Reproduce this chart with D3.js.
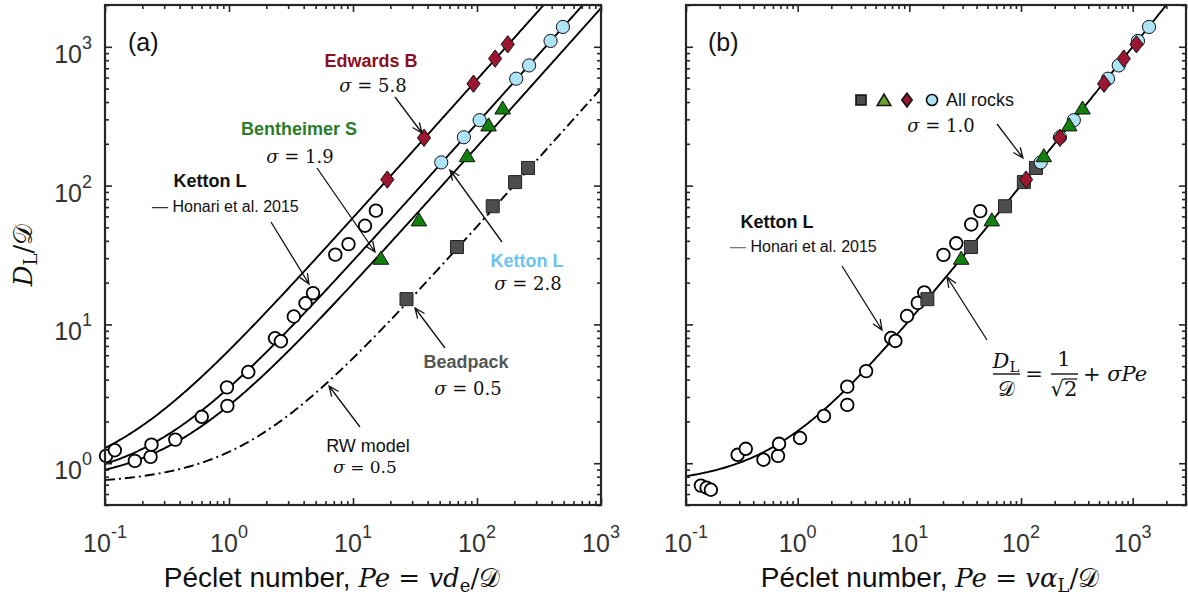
<!DOCTYPE html>
<html>
<head>
<meta charset="utf-8">
<script src="https://cdn.jsdelivr.net/npm/d3@7/dist/d3.min.js"></script>
<style>
  html, body { margin: 0; padding: 0; background: #fff; }
  svg { display: block; }
  text { white-space: pre; }
</style>
</head>
<body>
<svg id="chart" width="1188" height="601"></svg>
<script>
// ---------------- data ----------------
// Longitudinal dispersion model: D_L / D = 1/sqrt(2) + sigma * Pe
const sigmaFitsA = [5.8, 2.8, 1.9];     // Edwards B, Ketton L, Bentheimer S
const sigmaRW = 0.5;                    // random-walk model (dash-dot)
const sigmaAll = 1.0;                   // all rocks, Pe based on alpha_L

// Ketton L, Honari et al. 2015 (open circles)
const honariPeA = [0.102, 0.120, 0.174, 0.233, 0.237, 0.369, 0.603, 0.963, 0.97, 1.43,
                   2.35, 2.62, 3.33, 4.14, 4.76, 7.2, 9.2, 12.5, 15.3];
const honariDA  = [1.13, 1.24, 1.04, 1.11, 1.36, 1.48, 2.16, 3.52, 2.59, 4.54,
                   7.95, 7.56, 11.4, 14.2, 16.8, 31.8, 37.9, 51.4, 66];
const honariPeB = [0.136, 0.153, 0.167, 0.29, 0.343, 0.494, 0.667, 0.681, 1.05, 1.72,
                   2.78, 2.78, 4.10, 6.87, 7.5, 9.53, 11.9, 13.6, 20.2, 26.3, 35.8, 43.1];
const honariDB  = [0.69, 0.666, 0.644, 1.15, 1.27, 1.06, 1.13, 1.38, 1.52, 2.19,
                   3.56, 2.63, 4.61, 7.98, 7.6, 11.5, 14.3, 17.0, 31.7, 38.4, 52.5, 65.5];

// Beadpack
const beadD   = [15.2, 36.1, 71, 106, 134];
const beadPeA = [27, 68.9, 134, 203, 258];
const beadPeB = [14.5, 35.6, 71.9, 106, 136];

// Ketton L
const kettonD   = [147, 223, 296, 589, 734, 1102, 1390];
const kettonPeA = [51.5, 78.4, 105, 207, 263, 392, 493];
const kettonPeB = [150, 223, 297, 601, 750, 1114, 1400];

// Bentheimer S
const benthD   = [30.1, 56.9, 165, 275, 364];
const benthPeA = [16.8, 34, 83.2, 124, 161];
const benthPeB = [29.1, 54.7, 160, 270, 355];

// Edwards B
const edwardsD   = [110.5, 221, 542, 822, 1042];
const edwardsPeA = [18.9, 37.4, 93.7, 140, 177];
const edwardsPeB = [111, 223, 554, 832, 1080];

// axis limits
const xDomainA = [0.1, 1000];
const xDomainB = [0.1, 3000];
const yDomain  = [0.5, 2000];

// ---------------- setup ----------------
const SANS  = '"Liberation Sans", Arial, Helvetica, sans-serif';
const SERIF = '"DejaVu Serif", "Liberation Serif", "Times New Roman", serif';
const INK = "#262626";

const svg = d3.select("#chart");

const xA = d3.scaleLog().domain(xDomainA).range([105, 601]);
const yA = d3.scaleLog().domain(yDomain).range([505, 5]);
const xB = d3.scaleLog().domain(xDomainB).range([686, 1186]);
const yB = d3.scaleLog().domain(yDomain).range([505, 5]);

const colors = {
  bead: "#4d4d4d", beadText: "#555555",
  ketton: "#aee3f6", kettonText: "#6cc4ee",
  benth: "#12800f", benthText: "#2b7d2b", benthLegend: "#6ba22c",
  edwards: "#9c1631", edwardsText: "#8e1020"
};

function decades([lo, hi]) {
  const a = Math.ceil(Math.log10(lo) - 1e-9), b = Math.floor(Math.log10(hi) + 1e-9);
  return d3.range(a, b + 1).map(e => Math.pow(10, e));
}
function minors([lo, hi]) {
  const out = [];
  for (let e = Math.floor(Math.log10(lo)); e <= Math.ceil(Math.log10(hi)); e++) {
    for (let m = 2; m <= 9; m++) {
      const v = +(m * Math.pow(10, e)).toPrecision(6);
      if (v >= lo * 0.9999 && v <= hi * 1.0001) out.push(v);
    }
  }
  return out;
}

// rich text with italic / sub / superscript runs
function rich(g, x, y, parts, o = {}) {
  const t = g.append("text")
    .attr("x", x).attr("y", y)
    .attr("text-anchor", o.anchor || "start")
    .attr("font-size", o.size || 20)
    .attr("font-family", o.family || SERIF)
    .attr("font-weight", o.weight || "normal")
    .attr("fill", o.fill || "#111");
  if (o.rotate) t.attr("transform", `rotate(${o.rotate},${x},${y})`);
  parts.forEach(p => {
    const s = t.append("tspan").text(p.t);
    if (p.i) s.attr("font-style", "italic");
    if (p.f) s.attr("font-family", p.f);
    if (p.s) s.attr("font-size", p.s);
    if (p.dy) s.attr("dy", p.dy);
    if (p.dx) s.attr("dx", p.dx);
    if (p.c) s.attr("fill", p.c);
    if (p.w) s.attr("font-weight", p.w);
  });
  return t;
}

function arrow(g, x1, y1, x2, y2) {
  const a = Math.atan2(y2 - y1, x2 - x1), L = 11, sp = 0.40;
  const p = `M${x1},${y1}L${x2},${y2}` +
    `M${x2 - L * Math.cos(a - sp)},${y2 - L * Math.sin(a - sp)}L${x2},${y2}` +
    `L${x2 - L * Math.cos(a + sp)},${y2 - L * Math.sin(a + sp)}`;
  g.append("path").attr("d", p).attr("fill", "none")
    .attr("stroke", "#111").attr("stroke-width", 1.3);
}

function frame(g, x, y, showYLabels) {
  const [x0, x1] = x.range(), [y0, y1] = y.range();
  const sides = [
    [d3.axisBottom(x), `translate(0,${y0})`, x],
    [d3.axisTop(x), `translate(0,${y1})`, x],
    [d3.axisLeft(y), `translate(${x0},0)`, y],
    [d3.axisRight(y), `translate(${x1},0)`, y]
  ];
  sides.forEach(([ax, tr, sc]) => {
    [[decades(sc.domain()), -7], [minors(sc.domain()), -4]].forEach(([vals, len]) => {
      g.append("g").attr("transform", tr)
        .call(ax.tickValues(vals).tickSize(len).tickSizeOuter(0).tickFormat(""))
        .call(s => s.select(".domain").remove())
        .call(s => s.selectAll(".tick line").attr("stroke", INK).attr("stroke-width", 1.6));
    });
  });
  g.append("rect").attr("x", x0).attr("y", y1).attr("width", x1 - x0).attr("height", y0 - y1)
    .attr("fill", "none").attr("stroke", INK).attr("stroke-width", 2.2);

  decades(x.domain()).forEach(v => {
    const e = Math.round(Math.log10(v));
    rich(g, x(v), y0 + 47, [{ t: "10" }, { t: String(e), s: 18, dy: -14 }],
      { anchor: "middle", size: 25, family: SANS, fill: "#333" });
  });
  if (showYLabels) {
    decades(y.domain()).forEach(v => {
      const e = Math.round(Math.log10(v));
      rich(g, x0 - 13, y(v) + 16, [{ t: "10" }, { t: String(e), s: 18, dy: -14 }],
        { anchor: "end", size: 25, family: SANS, fill: "#333" });
    });
  }
}

function clip(id, x, y) {
  const [x0, x1] = x.range(), [y0, y1] = y.range();
  svg.append("clipPath").attr("id", id).append("rect")
    .attr("x", x0).attr("y", y1).attr("width", x1 - x0).attr("height", y0 - y1);
}

function modelCurve(g, x, y, sigma, dash, clipId) {
  const [lo, hi] = x.domain(), n = 300;
  const pts = d3.range(n + 1).map(i => {
    const pe = lo * Math.pow(hi / lo, i / n);
    return [pe, 1 / Math.SQRT2 + sigma * pe];
  });
  g.append("path").datum(pts)
    .attr("clip-path", `url(#${clipId})`)
    .attr("d", d3.line().x(d => x(d[0])).y(d => y(d[1])))
    .attr("fill", "none").attr("stroke", "#000").attr("stroke-width", 1.9)
    .attr("stroke-dasharray", dash || null);
}

// marker shapes, centred on (0,0)
const shape = {
  circle: r => `M${r},0A${r},${r} 0 1,1 ${-r},0A${r},${r} 0 1,1 ${r},0Z`,
  square: s => `M${-s / 2},${-s / 2}h${s}v${s}h${-s}Z`,
  triangle: s => `M0,${-s * 0.45}L${s * 0.52},${s * 0.42}L${-s * 0.52},${s * 0.42}Z`,
  diamond: s => `M0,${-s * 0.62}L${s * 0.47},0L0,${s * 0.62}L${-s * 0.47},0Z`
};

function markers(g, x, y, pe, dv, d, fill, stroke, sw) {
  g.append("g").selectAll("path").data(pe.map((p, i) => [p, dv[i]])).join("path")
    .attr("transform", v => `translate(${x(v[0])},${y(v[1])})`)
    .attr("d", d).attr("fill", fill).attr("stroke", stroke).attr("stroke-width", sw);
}

const sigmaLabel = v => [{ t: "σ", i: 1 }, { t: " = " + v.toFixed(1) }];

// ---------------- panel (a) ----------------
const gA = svg.append("g");
clip("clipA", xA, yA);
sigmaFitsA.forEach(s => modelCurve(gA, xA, yA, s, null, "clipA"));
modelCurve(gA, xA, yA, sigmaRW, "10,4,2,4", "clipA");

markers(gA, xA, yA, honariPeA, honariDA, shape.circle(6.3), "#fff", "#000", 1.8);
markers(gA, xA, yA, beadPeA, beadD, shape.square(13), colors.bead, "#222", 1);
markers(gA, xA, yA, kettonPeA, kettonD, shape.circle(6.6), colors.ketton, "#111", 1);
markers(gA, xA, yA, benthPeA, benthD, shape.triangle(15), colors.benth, "#111", 1);
markers(gA, xA, yA, edwardsPeA, edwardsD, shape.diamond(14), colors.edwards, "#111", 1);
frame(gA, xA, yA, true);

rich(gA, 128, 51, [{ t: "(a)" }], { size: 25, family: SANS, fill: "#111" });

rich(gA, 371, 67, [{ t: "Edwards B" }], { anchor: "middle", size: 18, family: SANS, weight: "bold", fill: colors.edwardsText });
rich(gA, 373, 92, sigmaLabel(sigmaFitsA[0]), { anchor: "middle", size: 18 });
arrow(gA, 395, 97, 422, 133);

rich(gA, 299, 135, [{ t: "Bentheimer S" }], { anchor: "middle", size: 18, family: SANS, weight: "bold", fill: colors.benthText });
rich(gA, 300, 163, sigmaLabel(sigmaFitsA[2]), { anchor: "middle", size: 18 });
arrow(gA, 317, 168, 375, 252);

rich(gA, 210, 187, [{ t: "Ketton L" }], { anchor: "middle", size: 18, family: SANS, weight: "bold", fill: "#111" });
rich(gA, 152, 212, [{ t: "— ", c: "#333" }, { t: "Honari et al. 2015" }], { size: 16, family: SANS, fill: "#111" });
arrow(gA, 271, 222, 309, 284);

rich(gA, 527, 267, [{ t: "Ketton L" }], { anchor: "middle", size: 18, family: SANS, weight: "bold", fill: colors.kettonText });
rich(gA, 528, 290, sigmaLabel(sigmaFitsA[1]), { anchor: "middle", size: 18 });
arrow(gA, 502, 242, 450, 170);

rich(gA, 466, 368, [{ t: "Beadpack" }], { anchor: "middle", size: 18, family: SANS, weight: "bold", fill: colors.beadText });
rich(gA, 468, 395, sigmaLabel(sigmaRW), { anchor: "middle", size: 18 });
arrow(gA, 445, 348, 415, 308);

rich(gA, 368, 452, [{ t: "RW model" }], { anchor: "middle", size: 18, family: SANS, fill: "#111" });
rich(gA, 365, 473, sigmaLabel(sigmaRW), { anchor: "middle", size: 17 });
arrow(gA, 360, 427, 329, 386);

// axis titles (a)
rich(gA, 32, 255, [{ t: "D", i: 1 }, { t: "L", s: 18, dy: 5 }, { t: "/", dy: -5 }, { t: "𝒟" }],
  { anchor: "middle", size: 26, rotate: -90 });
rich(gA, 332, 587, [{ t: "Péclet number, ", f: SANS, s: 28 }, { t: "Pe", i: 1 }, { t: " = " }, { t: "vd", i: 1 },
  { t: "e", s: 18, dy: 5 }, { t: "/", dy: -5 }, { t: "𝒟" }], { anchor: "middle", size: 26, fill: "#111" });

// ---------------- panel (b) ----------------
const gB = svg.append("g");
clip("clipB", xB, yB);
modelCurve(gB, xB, yB, sigmaAll, null, "clipB");

markers(gB, xB, yB, honariPeB, honariDB, shape.circle(6.3), "#fff", "#000", 1.8);
markers(gB, xB, yB, beadPeB, beadD, shape.square(13), colors.bead, "#222", 1);
markers(gB, xB, yB, kettonPeB, kettonD, shape.circle(6.6), colors.ketton, "#111", 1);
markers(gB, xB, yB, benthPeB, benthD, shape.triangle(15), colors.benth, "#111", 1);
markers(gB, xB, yB, edwardsPeB, edwardsD, shape.diamond(14), colors.edwards, "#111", 1);
frame(gB, xB, yB, false);

rich(gB, 708, 51, [{ t: "(b)" }], { size: 25, family: SANS, fill: "#111" });

// marker key for all rocks
const keyY = 100;
const key = gB.append("g");
[[861, shape.square(10), colors.bead], [884, shape.triangle(13), colors.benthLegend],
 [907, shape.diamond(11), colors.edwards], [932, shape.circle(5.5), colors.ketton]].forEach(([kx, d, f]) => {
  key.append("path").attr("transform", `translate(${kx},${keyY})`).attr("d", d)
    .attr("fill", f).attr("stroke", "#111").attr("stroke-width", 1.6);
});
rich(gB, 946, 106, [{ t: "All rocks" }], { size: 18, family: SANS, fill: "#111" });
rich(gB, 941, 132, sigmaLabel(sigmaAll), { anchor: "middle", size: 18 });
arrow(gB, 997, 124, 1023, 158);

rich(gB, 777, 228, [{ t: "Ketton L" }], { anchor: "middle", size: 18, family: SANS, weight: "bold", fill: "#111" });
rich(gB, 730, 252, [{ t: "— ", c: "#777" }, { t: "Honari et al. 2015" }], { size: 16, family: SANS, fill: "#111" });
arrow(gB, 842, 266, 882, 330);

// model equation
arrow(gB, 987, 340, 947, 277);
rich(gB, 1006, 368, [{ t: "D", i: 1 }, { t: "L", s: 15, dy: 4 }], { anchor: "middle", size: 21 });
gB.append("line").attr("x1", 993).attr("x2", 1020).attr("y1", 374).attr("y2", 374).attr("stroke", "#111").attr("stroke-width", 1.4);
rich(gB, 1006, 396, [{ t: "𝒟" }], { anchor: "middle", size: 21 });
rich(gB, 1034, 381, [{ t: "=" }], { anchor: "middle", size: 21 });
rich(gB, 1064, 366, [{ t: "1" }], { anchor: "middle", size: 21 });
gB.append("line").attr("x1", 1051).attr("x2", 1078).attr("y1", 374).attr("y2", 374).attr("stroke", "#111").attr("stroke-width", 1.4);
const rad = rich(gB, 1064, 396, [{ t: "√" }, { t: "2" }], { anchor: "middle", size: 21 });
{
  const n = rad.node();
  const c0 = n.getExtentOfChar(0), c1 = n.getExtentOfChar(1);
  const top = c0.y + 2;
  gB.append("line").attr("x1", c0.x + c0.width - 0.5).attr("x2", c1.x + c1.width)
    .attr("y1", top).attr("y2", top).attr("stroke", "#111").attr("stroke-width", 1.2);
}
rich(gB, 1083, 381, [{ t: "+ " }, { t: "σPe", i: 1 }], { size: 21 });

rich(gB, 930, 587, [{ t: "Péclet number, ", f: SANS, s: 28 }, { t: "Pe", i: 1 }, { t: " = " }, { t: "vα", i: 1 },
  { t: "L", s: 18, dy: 5 }, { t: "/", dy: -5 }, { t: "𝒟" }], { anchor: "middle", size: 26, fill: "#111" });
</script>
</body>
</html>
